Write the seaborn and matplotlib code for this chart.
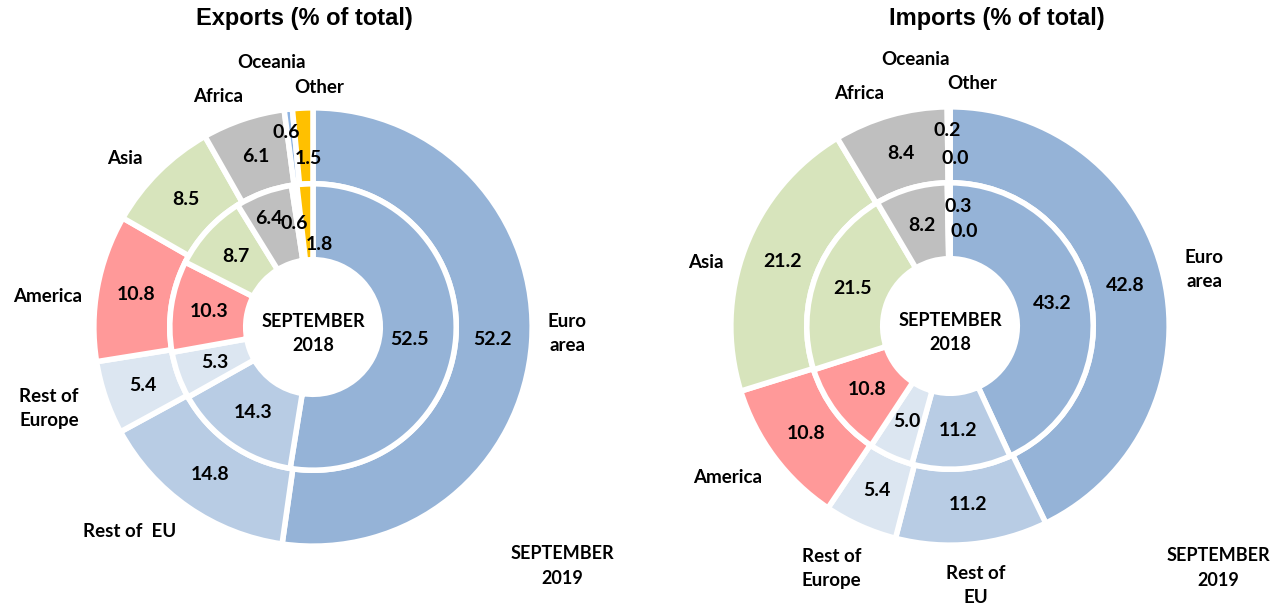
import matplotlib
matplotlib.use("Agg")
import matplotlib.pyplot as plt
import matplotlib.transforms as mtrans
import seaborn as sns

sns.set_theme(style="white")
plt.rcParams["font.family"] = ["Lato", "DejaVu Sans"]
plt.rcParams["text.color"] = "black"

# data
regions = ["Euro area", "Rest of EU", "Rest of Europe", "America",
           "Asia", "Africa", "Oceania", "Other"]
exports_2019 = [52.2, 14.8, 5.4, 10.8, 8.5, 6.1, 0.6, 1.5]
exports_2018 = [52.5, 14.3, 5.3, 10.3, 8.7, 6.4, 0.6, 1.8]
imports_2019 = [42.8, 11.2, 5.4, 10.8, 21.2, 8.4, 0.2, 0.0]
imports_2018 = [43.2, 11.2, 5.0, 10.8, 21.5, 8.2, 0.3, 0.0]

exp_names = ["Euro\narea", "Rest of  EU", "Rest of\nEurope", "America",
             "Asia", "Africa", "Oceania", "Other"]
imp_names = ["Euro\narea", "Rest of\nEU", "Rest of\nEurope", "America",
             "Asia", "Africa", "Oceania", "Other"]

colors = ["#95B3D7", "#B8CCE4", "#DCE6F1", "#FF9999",
          "#D7E4BC", "#BFBFBF", "#8EB4E3", "#FFC000"]

R_PX = 217  # ring radius in pixels
DPI = 100

fig = plt.figure(figsize=(12.85, 6.07), dpi=DPI)


def nudge(txt, ax, dx, dy):
    # shift a text by (dx, dy) pixels, dy positive = down
    txt.set_transform(ax.transData + mtrans.ScaledTranslation(
        dx / DPI, -dy / DPI, fig.dpi_scale_trans))


def donut(center, outer, inner, names, lab_nudge, out_nudge, in_nudge, sep_pos):
    cx, cy = center
    half = 300
    ax = fig.add_axes([(cx - half) / 1285, (607 - cy - half) / 607,
                       2 * half / 1285, 2 * half / 607])
    wp = dict(edgecolor="white", linewidth=4)

    _, labs, vals = ax.pie(outer, colors=colors, startangle=90, counterclock=False,
                           radius=1.01, labels=names, labeldistance=1.19,
                           autopct=lambda p: f"{p * sum(outer) / 100:.1f}",
                           pctdistance=0.82,
                           wedgeprops=dict(width=0.35, **wp))
    for i, t in enumerate(labs):
        t.set_ha("center")
        t.set_va("center")
        t.set_fontsize(13.5)
        t.set_fontweight("bold")
        t.set_color("black")
        t.set_linespacing(1.5)
        nudge(t, ax, *lab_nudge[i])
    for i, t in enumerate(vals):
        t.set_fontsize(14)
        t.set_fontweight("bold")
        t.set_color("black")
        nudge(t, ax, *out_nudge[i])

    _, _, ivals = ax.pie(inner, colors=colors, startangle=90, counterclock=False,
                         radius=0.66,
                         autopct=lambda p: f"{p * sum(inner) / 100:.1f}",
                         pctdistance=0.73,
                         wedgeprops=dict(width=0.35, **wp))
    for i, t in enumerate(ivals):
        t.set_fontsize(14)
        t.set_fontweight("bold")
        t.set_color("black")
        nudge(t, ax, *in_nudge[i])

    ax.text(0, -0.03, "SEPTEMBER\n2018", ha="center", va="center",
            fontsize=13, fontweight="bold", linespacing=1.55)
    ax.text(sep_pos[0], sep_pos[1], "SEPTEMBER\n2019", ha="center", va="center",
            fontsize=13, fontweight="bold", linespacing=1.55)

    lim = half / R_PX
    ax.set_xlim(-lim, lim)
    ax.set_ylim(-lim, lim)
    ax.set_aspect("equal")
    ax.axis("off")
    return ax


zero = (0, 0)
donut((313, 327), exports_2019, exports_2018, exp_names,
      lab_nudge=[(-6, -12), (-35, -10), (-17, -3), (-9, 16),
                 (-4, 16), (-12, 17), (-12, -5), (18, 21)],
      out_nudge=[zero, zero, zero, zero, zero, zero, (-6, -16), (4, 11)],
      in_nudge=[(-8, 4), zero, zero, zero, zero, (-8, -10), (-5, 0), (12, 22)],
      sep_pos=(1.15, -1.10))

donut((950, 326), imports_2019, imports_2018, imp_names,
      lab_nudge=[(0, 2), (0, 0), (-12, 4), (-13, -4),
                 (0, 29), (-20, 18), (-33, -6), (22, 18)],
      out_nudge=[zero, zero, zero, zero, zero, zero, (-2, -16), (5, 12)],
      in_nudge=[zero, zero, zero, zero, zero, zero, (9, -15), (14, 10)],
      sep_pos=(1.235, -1.115))

fig.text(304 / 1285, 1 - 18 / 607, "Exports (% of total)", ha="center", va="center",
         fontsize=17, fontweight="bold", family="Liberation Sans", color="black")
fig.text(997 / 1285, 1 - 18 / 607, "Imports (% of total)", ha="center", va="center",
         fontsize=17, fontweight="bold", family="Liberation Sans", color="black")

fig.savefig("out.png", dpi=DPI, facecolor="white")
